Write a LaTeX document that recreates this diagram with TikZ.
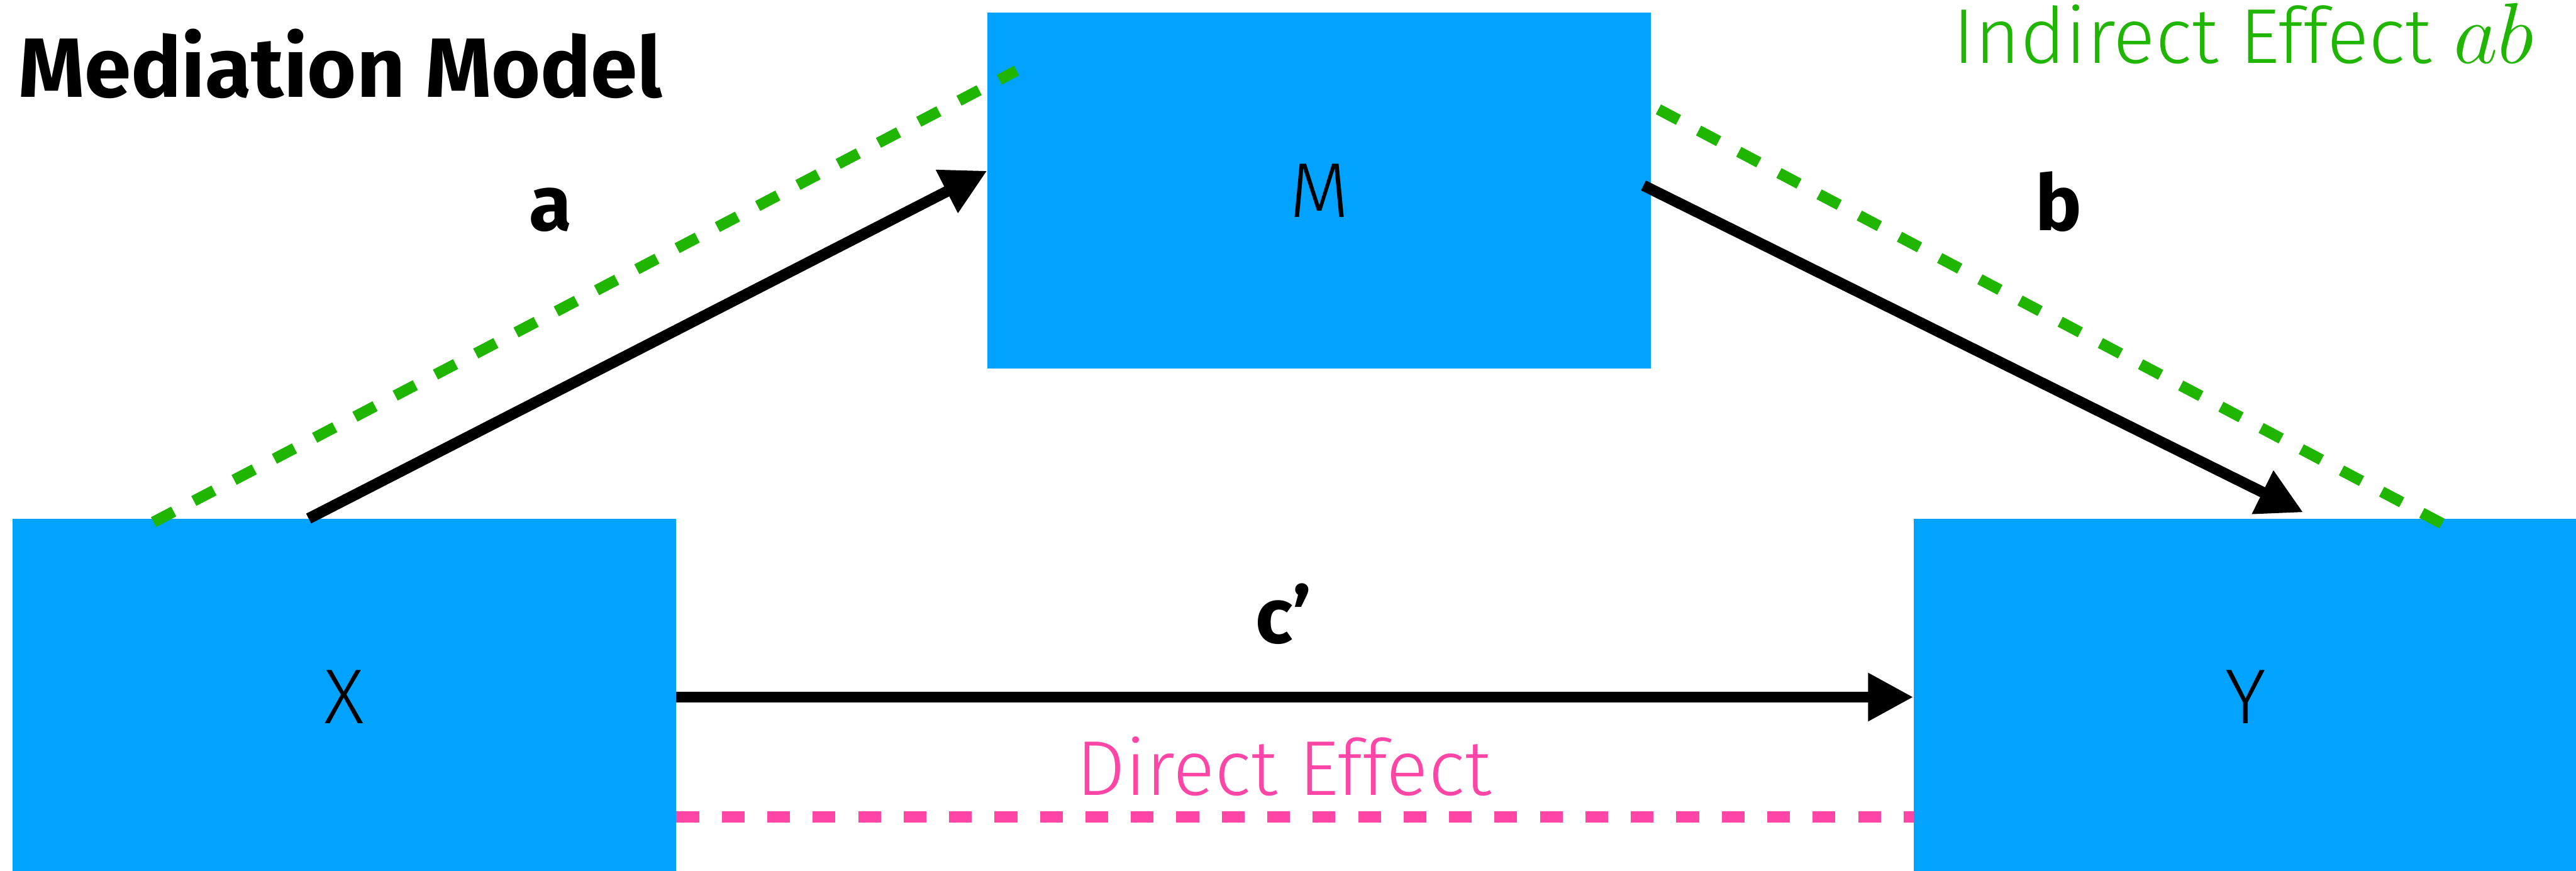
\documentclass[tikz,border=0pt]{standalone}
\usepackage{fix-cm}
\usepackage{fontspec}
\setmainfont{Fira Sans}
\IfFontExistsTF{Fira Sans Light}{\newfontfamily\thinfont{Fira Sans Light}}{\newfontfamily\thinfont{Fira Sans}}
\usetikzlibrary{arrows.meta, positioning}
\definecolor{medBlue}{HTML}{02A2FF}
\definecolor{medGreen}{HTML}{1FB500}
\definecolor{medPink}{HTML}{FF45A6}

\begin{document}
\begin{tikzpicture}[
		var/.style={fill=medBlue, minimum width=10.8cm, minimum height=5.8cm, inner sep=0pt, font=\thinfont\fontsize{36}{40}\selectfont},
		coef/.style={anchor=base, font=\bfseries\fontsize{36}{40}\selectfont},
		effect/.style={inner sep=0pt, font=\thinfont\fontsize{36}{40}\selectfont},
		arrow/.style={-{Triangle[length=0.74cm, width=0.74cm]}, line width=0.18cm},
		effectline/.style={line width=0.18cm, dash pattern=on 0.37cm off 0.37cm}
	]
		\useasboundingbox (0,0) rectangle (41.94,14.18);
		\clip (0,0) rectangle (41.94,14.18);

		\node[var] (M) at (21.48,11.08) {M};
		\node[var] (X) at (5.605,2.83) {X};
		\node[var] (Y) at (36.56,2.83) {Y};

		\node[anchor=base west, inner sep=0pt, font=\bfseries\fontsize{39}{42}\selectfont] (title) at (0.29,12.60) {Mediation Model};
		\node[effect, anchor=base east, text=medGreen] (indirect) at (41.26,13.15) {Indirect Effect {\fontsize{40}{42}\selectfont$ab$}};
		\node[effect, anchor=base, text=medPink] (direct) at (20.9,1.23) {Direct Effect};

		% paths
		\draw[arrow] ([xshift=-0.58cm]X.north) -- ([yshift=0.32cm]M.west);
		\draw[arrow] ([xshift=-0.13cm, yshift=0.08cm]M.east) -- ([xshift=0.94cm, yshift=0.1cm]Y.north);
		\draw[arrow] (X.east) -- (Y.west);
		\node[coef] (a) at (8.96,10.43) {a};
		\node[coef] (b) at (33.52,10.43) {b};
		\node[coef] (c) at (20.9,3.71) {c’};

		% effects
		\coordinate (ga) at (2.50,5.68);
		\coordinate (gb) at (16.55,13.03);
		\coordinate (gc) at (27.00,12.40);
		\coordinate (gd) at (39.90,5.58);
		\draw[effectline, medGreen] (ga) -- (gb);
		\draw[effectline, medGreen] (gc) -- (gd);
		\draw[effectline, medPink] ([yshift=-1.95cm]X.east) -- ([yshift=-1.95cm]Y.west);
	\end{tikzpicture}
\end{document}
